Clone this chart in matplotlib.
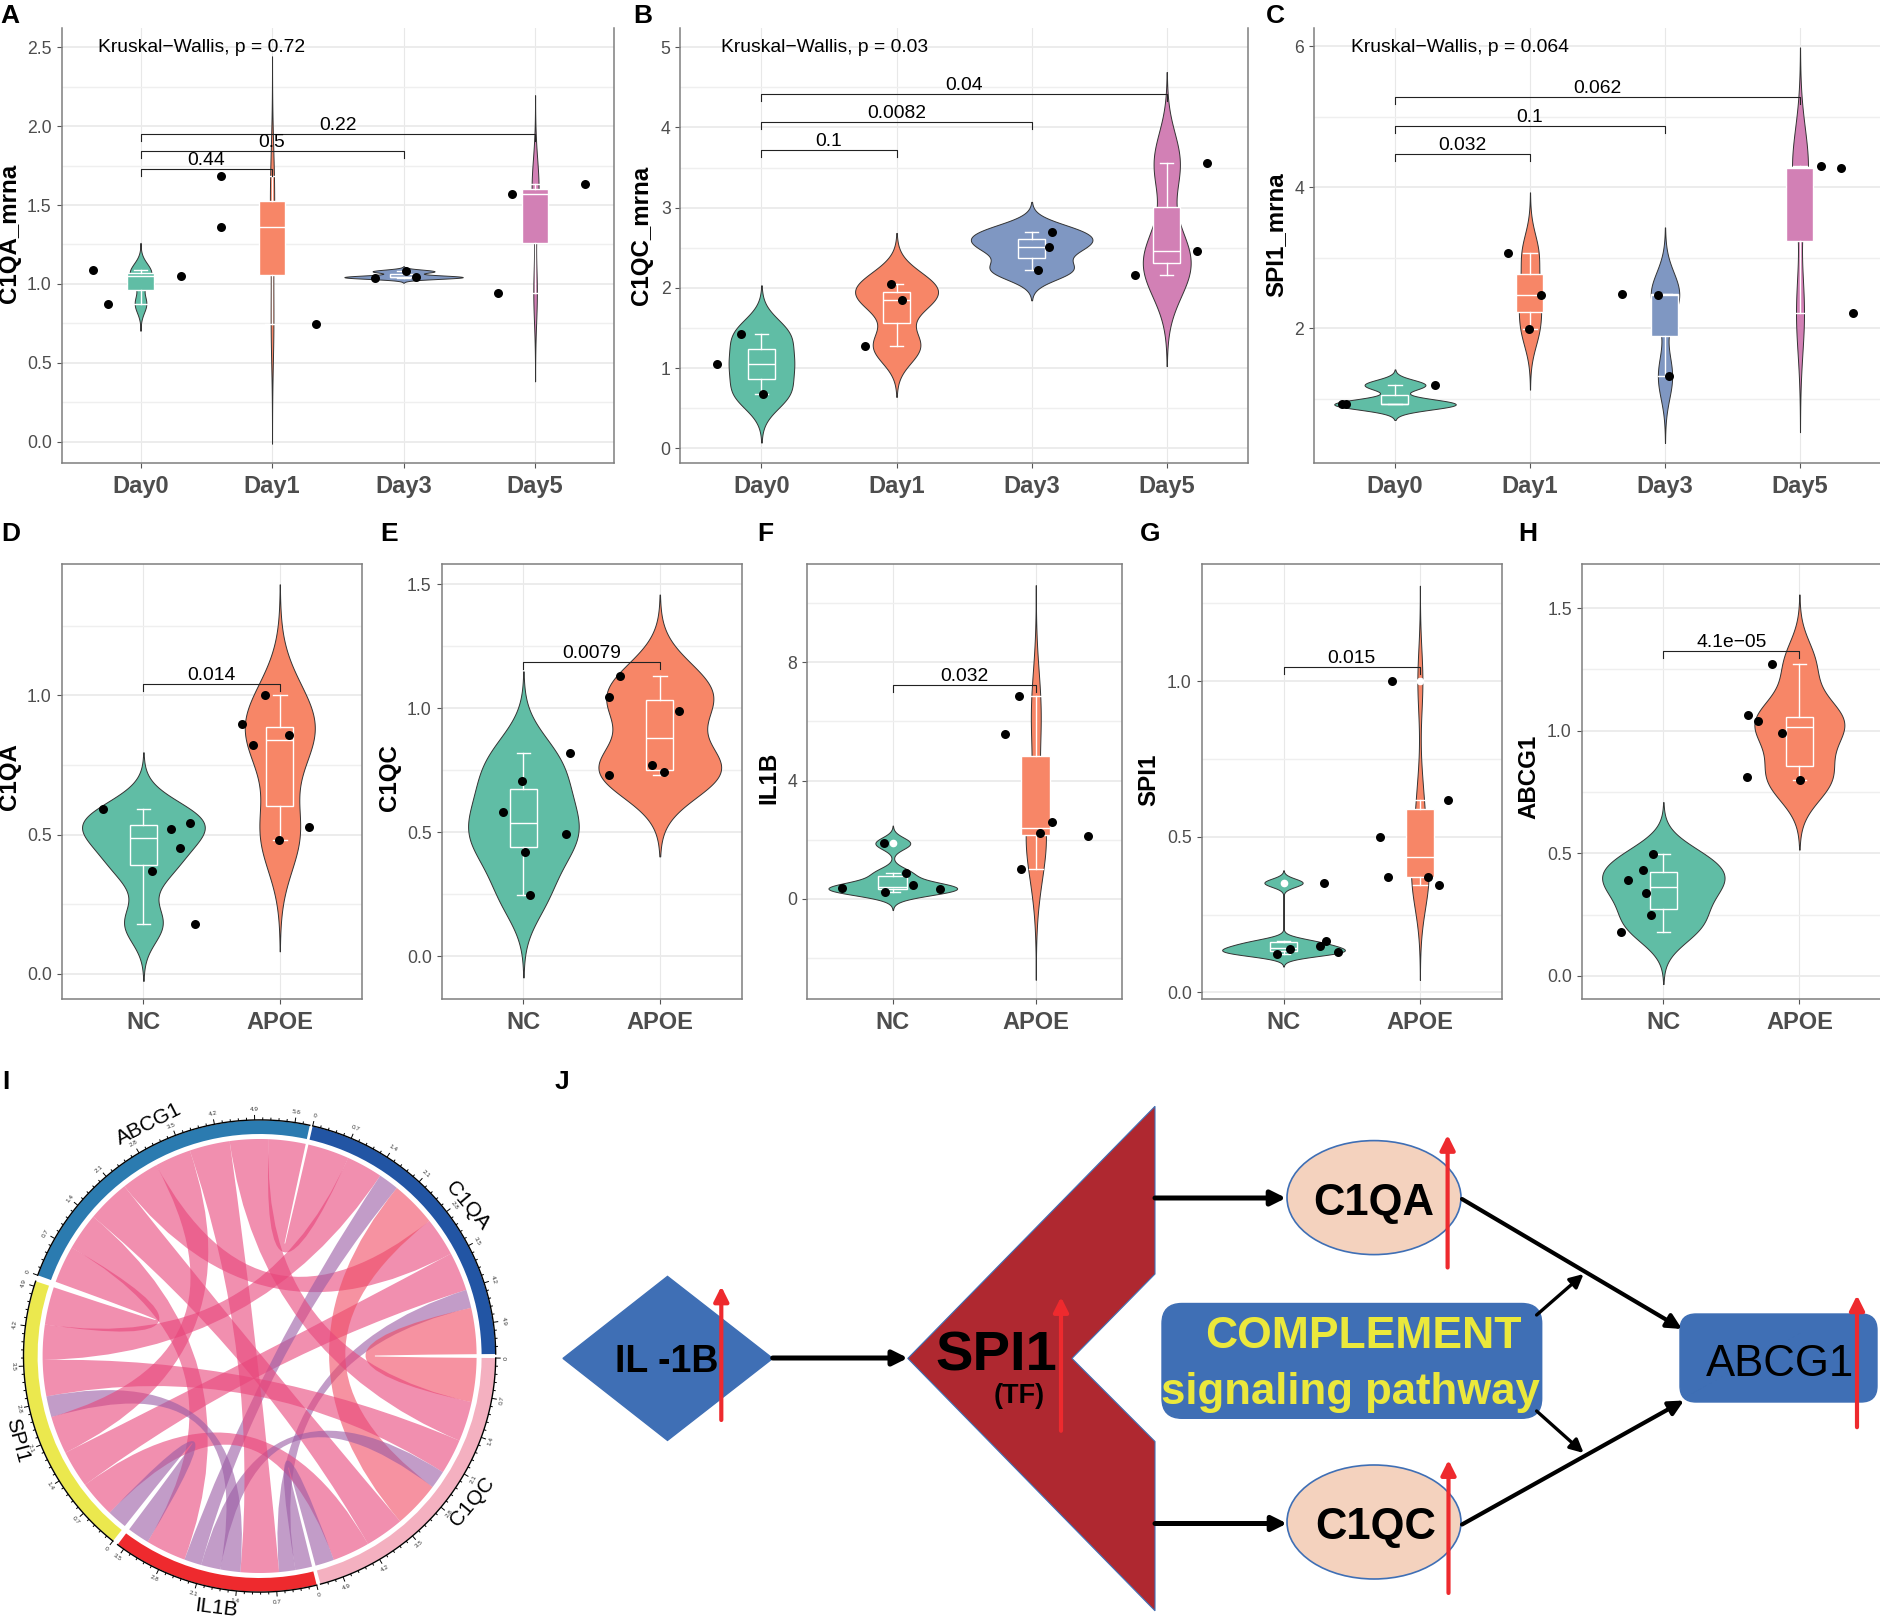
#!/usr/bin/env python3
"""Violin panels A-H, chord diagram I and pathway sketch J, drawn on one pixel-sized figure."""

import matplotlib
matplotlib.use("Agg")
import matplotlib.pyplot as plt
import numpy as np
from matplotlib.collections import LineCollection
from matplotlib.patches import Ellipse, FancyBboxPatch, PathPatch, Polygon, Wedge
from matplotlib.path import Path

plt.rcParams["font.family"] = ["Liberation Sans", "DejaVu Sans"]

W, H = 1881, 1619
GROUP_COLORS = ["#60BDA5", "#F78667", "#7F97C2", "#D280B5"]
DAYS = ["Day0", "Day1", "Day3", "Day5"]
GROUPS = ["NC", "APOE"]

# dots: y values per group, x is the jittered position
A_Y = [[1.088, 0.875, 1.048], [1.684, 1.363, 0.746], [1.04, 1.08, 1.046], [0.943, 1.57, 1.636]]
A_X = [[-0.365, -0.25, 0.306], [0.613, 0.613, 1.331], [1.78, 2.019, 2.096], [2.721, 2.827, 3.381]]
B_Y = [[1.052, 1.426, 0.677], [1.272, 2.053, 1.85], [2.224, 2.515, 2.693], [2.157, 2.46, 3.558]]
B_X = [[-0.326, -0.148, 0.012], [0.767, 0.957, 1.038], [2.047, 2.125, 2.149], [2.765, 3.227, 3.296]]
C_Y = [[0.922, 0.922, 1.196], [3.064, 2.473, 1.995], [2.487, 2.473, 1.319], [4.298, 4.27, 2.213]]
C_X = [[-0.396, -0.366, 0.296], [0.835, 1.083, 0.989], [1.681, 1.95, 2.032], [3.154, 3.305, 3.39]]
D_Y = [[0.59, 0.521, 0.541, 0.451, 0.37, 0.18], [1.0, 0.897, 0.822, 0.856, 0.527, 0.479]]
D_X = [[-0.299, 0.203, 0.338, 0.27, 0.064, 0.381], [0.893, 0.726, 0.801, 1.071, 1.217, 0.996]]
E_Y = [[0.705, 0.582, 0.494, 0.421, 0.245, 0.818], [1.13, 1.046, 0.989, 0.772, 0.743, 0.731]]
E_X = [[-0.011, -0.153, 0.313, 0.014, 0.046, 0.345], [0.705, 0.63, 1.139, 0.943, 1.032, 0.63]]
F_Y = [[1.876, 0.858, 0.458, 0.32, 0.366, 0.217], [6.876, 5.56, 2.586, 2.22, 2.14, 0.995]]
F_X = [[-0.063, 0.094, 0.139, 0.33, -0.354, -0.052], [0.882, 0.785, 1.111, 1.031, 1.365, 0.899]]
G_Y = [[0.352, 0.164, 0.15, 0.138, 0.13, 0.123], [1.0, 0.617, 0.5, 0.371, 0.37, 0.346]]
G_X = [[0.297, 0.308, 0.267, 0.048, 0.396, -0.048], [0.799, 1.209, 0.711, 0.766, 1.059, 1.143]]
H_Y = [[0.496, 0.434, 0.391, 0.338, 0.25, 0.18], [1.273, 1.063, 1.04, 0.99, 0.812, 0.798]]
H_X = [[-0.073, -0.146, -0.256, -0.127, -0.088, -0.31], [0.798, 0.624, 0.695, 0.873, 0.617, 1.002]]

# comparison brackets: (group a, group b, height, label)
A_BRACKETS = [(0, 1, 1.729, "0.44"), (0, 2, 1.84, "0.5"), (0, 3, 1.953, "0.22")]
B_BRACKETS = [(0, 1, 3.716, "0.1"), (0, 2, 4.065, "0.0082"), (0, 3, 4.414, "0.04")]
C_BRACKETS = [(0, 1, 4.468, "0.032"), (0, 2, 4.87, "0.1"), (0, 3, 5.277, "0.062")]
D_BRACKETS = [(0, 1, 1.04, "0.014")]
E_BRACKETS = [(0, 1, 1.185, "0.0079")]
F_BRACKETS = [(0, 1, 7.22, "0.032")]
G_BRACKETS = [(0, 1, 1.046, "0.015")]
H_BRACKETS = [(0, 1, 1.325, "4.1e\u221205")]

PANELS = [
    dict(letter="A", ylabel="C1QA_mrna", x=A_X, y=A_Y, br=A_BRACKETS, cats=DAYS, box=(61.6, 28, 614, 462.7),
         ylim=(-0.133, 2.622), ticks=["0.0", "0.5", "1.0", "1.5", "2.0", "2.5"],
         minor=[0.25, 0.75, 1.25, 1.75, 2.25], kw=("Kruskal\u2212Wallis, p = 0.72", -0.32, 2.5),
         letter_xy=(0, 16), label_xy=(10, 233), top=False),
    dict(letter="B", ylabel="C1QC_mrna", x=B_X, y=B_Y, br=B_BRACKETS, cats=DAYS, box=(680.4, 28, 1247.8, 462.7),
         ylim=(-0.18, 5.24), ticks=["0", "1", "2", "3", "4", "5"],
         minor=[0.5, 1.5, 2.5, 3.5, 4.5], kw=("Kruskal\u2212Wallis, p = 0.03", -0.30, 5.0),
         letter_xy=(633, 16), label_xy=(642, 235), top=False),
    dict(letter="C", ylabel="SPI1_mrna", x=C_X, y=C_Y, br=C_BRACKETS, cats=DAYS, box=(1314, 28, 1881, 462.7),
         ylim=(0.094, 6.26), ticks=["2", "4", "6"],
         minor=[1, 3, 5], kw=("Kruskal\u2212Wallis, p = 0.064", -0.326, 5.985),
         letter_xy=(1266, 16), label_xy=(1276, 235), top=False),
    dict(letter="D", ylabel="C1QA", x=D_X, y=D_Y, br=D_BRACKETS, cats=GROUPS, box=(61.6, 564, 361.6, 999.5),
         ylim=(-0.092, 1.471), ticks=["0.0", "0.5", "1.0"], minor=[0.25, 0.75, 1.25],
         letter_xy=(1, 534), label_xy=(10, 777)),
    dict(letter="E", ylabel="C1QC", x=E_X, y=E_Y, br=E_BRACKETS, cats=GROUPS, box=(441.6, 564, 741.6, 999.5),
         ylim=(-0.175, 1.582), ticks=["0.0", "0.5", "1.0", "1.5"], minor=[0.25, 0.75, 1.25],
         letter_xy=(380, 534), label_xy=(389, 778)),
    dict(letter="F", ylabel="IL1B", x=F_X, y=F_Y, br=F_BRACKETS, cats=GROUPS, box=(807, 564, 1121.6, 999.5),
         ylim=(-3.41, 11.33), ticks=["0", "4", "8"], minor=[-2, 2, 6, 10],
         letter_xy=(757, 534), label_xy=(769, 778)),
    dict(letter="G", ylabel="SPI1", x=G_X, y=G_Y, br=G_BRACKETS, cats=GROUPS, box=(1201.7, 564, 1501.7, 999.5),
         ylim=(-0.023, 1.376), ticks=["0.0", "0.5", "1.0"], minor=[0.25, 0.75, 1.25],
         letter_xy=(1140, 534), label_xy=(1149, 780)),
    dict(letter="H", ylabel="ABCG1", x=H_X, y=H_Y, br=H_BRACKETS, cats=GROUPS, box=(1581.7, 564, 1881, 999.5),
         ylim=(-0.096, 1.68), ticks=["0.0", "0.5", "1.0", "1.5"], minor=[0.25, 0.75, 1.25],
         letter_xy=(1518, 534), label_xy=(1529, 777)),
]

# chord diagram: sector axis in units, ribbon slots are read along each sector
SECTORS = ["C1QA", "C1QC", "IL1B", "SPI1", "ABCG1"]
SECTOR_COLORS = ["#2255A4", "#F4B0C0", "#EE2A2E", "#EBE84E", "#2B7BB0"]
SECTOR_START = [77, -0.5, -76, -128.4, -200]
SECTOR_LEN = [5.45, 5.31, 3.63, 4.99, 5.86]
SLOTS = {
    "C1QA": [0, 0.79, 1.48, 1.87, 2.74, 3.48, 4.22, 4.57, 5.45],
    "C1QC": [0, 0.84, 1.60, 2.27, 2.61, 3.50, 4.24, 4.95, 5.31],
    "IL1B": [0, 0.32, 0.63, 1.36, 1.74, 2.11, 2.44, 3.21, 3.63],
    "SPI1": [0, 0.38, 1.08, 1.79, 2.51, 2.91, 3.60, 4.27, 4.99],
    "ABCG1": [0, 0.71, 1.42, 2.24, 2.96, 3.65, 4.42, 5.16, 5.86],
}
PINK, SALMON, PURPLE = "#E8447A", "#F04A62", "#9A5BA4"
LINKS = [
    ("ABCG1", 7, "C1QA", 0, PINK), ("ABCG1", 3, "C1QA", 4, PINK),
    ("C1QA", 1, "SPI1", 6, PINK), ("C1QA", 5, "SPI1", 2, PINK),
    ("C1QA", 2, "IL1B", 5, PURPLE), ("C1QA", 6, "IL1B", 1, PURPLE),
    ("C1QA", 3, "C1QC", 4, SALMON), ("C1QA", 7, "C1QC", 0, SALMON),
    ("C1QC", 2, "SPI1", 5, PINK), ("C1QC", 6, "SPI1", 1, PINK),
    ("C1QC", 1, "ABCG1", 6, PINK), ("C1QC", 5, "ABCG1", 2, PINK),
    ("C1QC", 3, "IL1B", 4, PURPLE), ("C1QC", 7, "IL1B", 0, PURPLE),
    ("IL1B", 2, "ABCG1", 5, PINK), ("IL1B", 6, "ABCG1", 1, PINK),
    ("IL1B", 3, "SPI1", 4, PURPLE), ("IL1B", 7, "SPI1", 0, PURPLE),
    ("SPI1", 7, "ABCG1", 0, PINK), ("SPI1", 3, "ABCG1", 4, PINK),
]
SECTOR_LABELS = [("C1QA", 468, 1206, -50), ("C1QC", 472, 1502, 50), ("IL1B", 216, 1608, -7),
                 ("SPI1", 17, 1440, -75), ("ABCG1", 149, 1124, 27)]

BLUE = "#3F6FB5"
RED = "#EE2A2E"


def nrd0(values):
    # same rule of thumb as R's bw.nrd0, which the violins were built with
    v = np.asarray(values, dtype=float)
    q1, q3 = np.percentile(v, [25, 75])
    return 0.9 * min(v.std(ddof=1), (q3 - q1) / 1.34) * len(v) ** -0.2


def density(values):
    v = np.asarray(values, dtype=float)
    bw = nrd0(v)
    grid = np.linspace(v.min() - 3 * bw, v.max() + 3 * bw, 512)
    d = np.exp(-0.5 * ((grid[:, None] - v) / bw) ** 2).sum(axis=1) / (len(v) * bw * np.sqrt(2 * np.pi))
    return grid, d


def draw_panel(fig, overlay, p):
    left, top, right, bottom = p["box"]
    ax = fig.add_axes([left / W, 1 - bottom / H, (right - left) / W, (bottom - top) / H])
    n = len(p["cats"])

    ax.set_xlim(-0.6, n - 0.4)
    ax.set_ylim(*p["ylim"])
    ax.set_axisbelow(True)
    ax.set_xticks(range(n), p["cats"])
    ax.set_yticks([float(t) for t in p["ticks"]], p["ticks"])
    ax.set_yticks(p["minor"], minor=True)
    ax.grid(axis="x", color="#E8E8E8", lw=0.8)
    ax.grid(axis="y", which="major", color="#EBEBEB", lw=1.3)
    ax.grid(axis="y", which="minor", color="#EFEFEF", lw=1.0)
    ax.tick_params(axis="y", which="minor", length=0)
    ax.tick_params(axis="y", which="major", labelsize=12.7, labelcolor="#4D4D4D", color="#555555", length=3.6, width=0.8)
    ax.tick_params(axis="x", labelsize=17, labelcolor="#4D4D4D", color="#555555", length=3.6, width=0.8, pad=5)
    for label in ax.get_xticklabels():
        label.set_fontweight("bold")
    for name, spine in ax.spines.items():
        spine.set_color("#7F7F7F")
        spine.set_linewidth(1.1)
    if not p.get("top", True):
        ax.spines["top"].set_visible(False)

    # area-scaled violins, widest one takes the full 0.9 width
    curves = [density(vals) for vals in p["y"]]
    dmax = max(d.max() for _, d in curves)
    for i, (grid, d) in enumerate(curves):
        half = 0.45 * d / dmax
        ax.fill_betweenx(grid, i - half, i + half, facecolor=GROUP_COLORS[i], edgecolor="#333333", lw=0.7, zorder=2)
        ax.boxplot(
            p["y"][i], positions=[i], widths=0.2, capwidths=0.1, whis=1.5, patch_artist=True, manage_ticks=False,
            boxprops=dict(facecolor=GROUP_COLORS[i], edgecolor="white", lw=1.0),
            medianprops=dict(color="white", lw=1.0),
            whiskerprops=dict(color="white", lw=1.0),
            capprops=dict(color="white", lw=1.0),
            flierprops=dict(marker="o", markerfacecolor="white", markeredgecolor="white", markersize=4.5),
            zorder=3,
        )
        ax.scatter(p["x"][i], p["y"][i], s=42, color="black", linewidths=0, zorder=4)

    # brackets
    ymin, ymax = p["ylim"]
    tip = 7 * (ymax - ymin) / (bottom - top)
    for a, b, level, text in p["br"]:
        ax.plot([a, a, b, b], [level - tip, level, level, level - tip], color="#222222", lw=0.8, zorder=5)
        ax.text((a + b) / 2, level, text, ha="center", va="bottom", fontsize=13.9, color="black", zorder=6)
    if "kw" in p:
        text, x, y = p["kw"]
        ax.text(x, y, text, ha="left", va="center", fontsize=13.9, color="black", zorder=6)

    lx, ly = p["letter_xy"]
    overlay.text(lx, ly, p["letter"], fontsize=19, fontweight="bold", ha="left", va="center", color="black")
    tx, ty = p["label_xy"]
    overlay.text(tx, ty, p["ylabel"], fontsize=17.4, fontweight="bold", rotation=90, ha="center", va="center", color="black")


def polar(cx, cy, r, deg):
    rad = np.deg2rad(deg)
    return cx + r * np.cos(rad), cy - r * np.sin(rad)


def draw_chord(ax):
    cx, cy = 259.6, 1356
    r_chord, r_in, r_out = 217, 222, 235.6
    deg_per_unit = 14.04
    start_of = dict(zip(SECTORS, SECTOR_START))

    def slot_arc(sector, slot):
        start = start_of[sector]
        edges = SLOTS[sector]
        return start - edges[slot] * deg_per_unit, start - edges[slot + 1] * deg_per_unit

    for sa, ia, sb, ib, color in LINKS:
        a0, a1 = slot_arc(sa, ia)
        b0, b1 = slot_arc(sb, ib)
        verts, codes = [], []
        arc = np.linspace(a0, a1, 30)
        for k, d in enumerate(arc):
            verts.append(polar(cx, cy, r_chord, d))
            codes.append(Path.MOVETO if k == 0 else Path.LINETO)
        verts += [(cx, cy), polar(cx, cy, r_chord, b0)]
        codes += [Path.CURVE3, Path.CURVE3]
        for d in np.linspace(b0, b1, 30)[1:]:
            verts.append(polar(cx, cy, r_chord, d))
            codes.append(Path.LINETO)
        verts += [(cx, cy), polar(cx, cy, r_chord, a0)]
        codes += [Path.CURVE3, Path.CURVE3]
        ax.add_patch(PathPatch(Path(verts, codes), facecolor=color, edgecolor="none", alpha=0.6, zorder=2))

    segs = []
    for i, name in enumerate(SECTORS):
        start, length = SECTOR_START[i], SECTOR_LEN[i]
        end = start - length * deg_per_unit
        # y axis is inverted here, so wedge angles flip sign
        ax.add_patch(Wedge((cx, cy), r_out, -start, -end, width=r_out - r_in,
                           facecolor=SECTOR_COLORS[i], edgecolor="none", zorder=3))
        arc = np.linspace(start, end, 100)
        ax.plot(*polar(cx, cy, r_out + 0.5, arc), color="black", lw=1.0, zorder=4)
        n_minor = int(np.floor(length / 0.14 + 1e-6))
        for k in range(n_minor + 1):
            u = k * 0.14
            d = start - u * deg_per_unit
            major = k % 5 == 0
            segs.append([polar(cx, cy, r_out + 0.5, d), polar(cx, cy, r_out + (5.5 if major else 3), d)])
            if major:
                x, y = polar(cx, cy, r_out + 11, d)
                norm = (d + 180) % 360 - 180
                rot = norm - 90 if norm >= 0 else norm + 90
                ax.text(x, y, f"{u:.1f}" if k else "0", fontsize=4.6, color="#333333", rotation=rot,
                        ha="center", va="center", rotation_mode="anchor")
    ax.add_collection(LineCollection(segs, colors="black", linewidths=0.7, zorder=4))

    for name, x, y, rot in SECTOR_LABELS:
        ax.text(x, y, name, fontsize=15, rotation=rot, ha="center", va="center", color="black", rotation_mode="anchor")


def arrow(ax, start, end, color="black", lw=3.0, scale=11):
    ax.annotate("", xy=end, xytext=start, zorder=6,
                arrowprops=dict(arrowstyle="-|>,head_length=0.8,head_width=0.4", color=color, lw=lw,
                                mutation_scale=scale, shrinkA=0, shrinkB=0))


def draw_pathway(ax):
    ax.add_patch(Polygon([(563, 1358.4), (667.5, 1276.4), (772.7, 1358.4), (667.5, 1440.4)],
                         facecolor=BLUE, edgecolor=BLUE, zorder=2))
    ax.add_patch(Polygon([(1155, 1106.3), (1155, 1274), (1072, 1358.4), (1155, 1441.5), (1155, 1610.8), (907.8, 1358.4)],
                         facecolor="#AF2830", edgecolor=BLUE, lw=0.8, zorder=2))
    for cy in (1197.6, 1522):
        ax.add_patch(Ellipse((1374, cy), 174, 114, facecolor="#F4D2BE", edgecolor=BLUE, lw=1.2, zorder=2))
    ax.add_patch(FancyBboxPatch((1162, 1303.5), 379.7, 114.8, boxstyle="round,pad=0,rounding_size=20",
                                facecolor=BLUE, edgecolor=BLUE, zorder=2))
    ax.add_patch(FancyBboxPatch((1680, 1314), 197, 88, boxstyle="round,pad=0,rounding_size=16",
                                facecolor=BLUE, edgecolor=BLUE, zorder=2))

    ax.text(667, 1362, "IL -1B", fontsize=27, fontweight="bold", ha="center", va="center", zorder=4)
    ax.text(996, 1356, "SPI1", fontsize=40.5, fontweight="bold", ha="center", va="center", zorder=4)
    ax.text(1019, 1396, "(TF)", fontsize=19.5, fontweight="bold", ha="center", va="center", zorder=4)
    ax.text(1374, 1203, "C1QA", fontsize=31.4, fontweight="bold", ha="center", va="center", zorder=4)
    ax.text(1376, 1527.5, "C1QC", fontsize=31.4, fontweight="bold", ha="center", va="center", zorder=4)
    ax.text(1363, 1336.5, "COMPLEMENT", fontsize=32, fontweight="bold", color="#EBE83C", ha="center", va="center", zorder=4)
    ax.text(1350, 1392, "signaling pathway", fontsize=31.5, fontweight="bold", color="#EBE83C", ha="center", va="center", zorder=4)
    ax.text(1780, 1364, "ABCG1", fontsize=31.5, ha="center", va="center", zorder=4)

    arrow(ax, (772.7, 1358), (907.8, 1358), lw=3.6)
    arrow(ax, (1155, 1198), (1286, 1198), lw=3.6)
    arrow(ax, (1155, 1523.5), (1287, 1523.5), lw=3.6)
    arrow(ax, (1462, 1199), (1682, 1329), lw=3.0)
    arrow(ax, (1462, 1524.5), (1684, 1400.5), lw=3.0)
    arrow(ax, (1536.6, 1315), (1583.6, 1274), lw=2.4, scale=10)
    arrow(ax, (1536.6, 1411), (1583.6, 1453), lw=2.4, scale=10)

    for x, y0, y1 in [(721.3, 1420, 1286.4), (1061, 1430.8, 1297), (1447.6, 1267.5, 1134.9),
                      (1448.5, 1593, 1460), (1857, 1427.2, 1295.3)]:
        arrow(ax, (x, y0), (x, y1), color=RED, lw=3.0, scale=11)


def main():
    fig = plt.figure(figsize=(W / 100, H / 100), dpi=100, facecolor="white")
    overlay = fig.add_axes([0, 0, 1, 1], zorder=10)
    overlay.set_xlim(0, W)
    overlay.set_ylim(H, 0)
    overlay.axis("off")
    overlay.patch.set_alpha(0)

    for p in PANELS:
        draw_panel(fig, overlay, p)
    draw_chord(overlay)
    draw_pathway(overlay)
    overlay.text(2, 1082, "I", fontsize=19, fontweight="bold", ha="left", va="center")
    overlay.text(555, 1082, "J", fontsize=19, fontweight="bold", ha="left", va="center")

    fig.savefig("out.png", dpi=100)


if __name__ == "__main__":
    main()
